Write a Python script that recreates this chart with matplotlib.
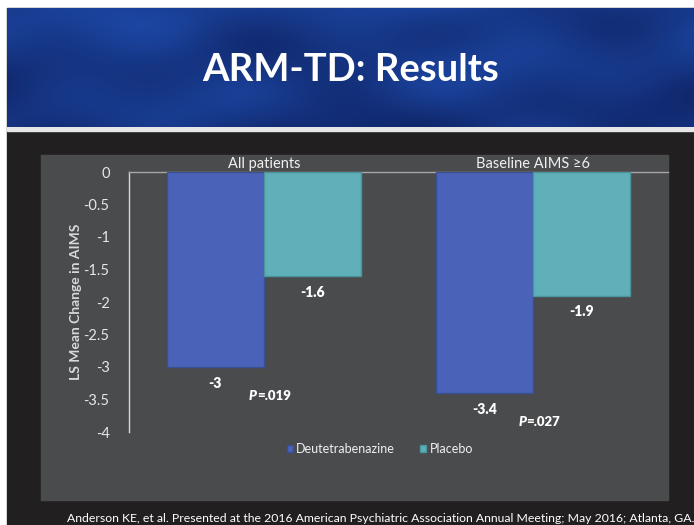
import numpy as np
import matplotlib
matplotlib.use("Agg")
import matplotlib.pyplot as plt
from matplotlib.patches import Rectangle

# ---- data ----
categories = ["All patients", "Baseline AIMS \u22656"]
series_names = ["Deutetrabenazine", "Placebo"]
deut_values = [-3.0, -3.4]
placebo_values = [-1.6, -1.9]
p_values = ["=.019", "=.027"]
yticks = [0, -0.5, -1, -1.5, -2, -2.5, -3, -3.5, -4]
ytick_labels = ["0", "-0.5", "-1", "-1.5", "-2", "-2.5", "-3", "-3.5", "-4"]
title = "ARM-TD: Results"
ylabel = "LS Mean Change in AIMS"
footer = ("Anderson KE, et al. Presented at the 2016 American Psychiatric "
          "Association Annual Meeting; May 2016; Atlanta, GA.")

W, H = 694, 525
plt.rcParams['font.family'] = ['Lato', 'DejaVu Sans']

fig = plt.figure(figsize=(W / 100, H / 100), dpi=100)
fig.patch.set_facecolor("white")

def fx(px):
    return px / W

def fy(py):
    return 1 - py / H

# dark slide background
bg = fig.add_axes([0, 0, 1, 1])
bg.set_xlim(0, W)
bg.set_ylim(H, 0)
bg.axis("off")
bg.add_patch(Rectangle((7, 8), W - 7, H - 8, color="#221f20", zorder=0))
# header separator line
bg.add_patch(Rectangle((7, 127), W - 7, 4, color="#e6e6e6", zorder=1))
# chart panel
bg.add_patch(Rectangle((41, 155), 627, 345, color="#4a4b4d", zorder=1))

# header image (decorative gradient)
hx = fig.add_axes([fx(7), fy(127), fx(W - 7), (127 - 8) / H])
hx.axis("off")
yy, xx = np.mgrid[0:1:120j, 0:1:690j]
tex = (0.62 + 0.2 * np.sin(xx * 9 + yy * 3) * np.cos(yy * 5 - xx * 4)
       + 0.12 * np.cos(xx * 23 + 1.3) * np.sin(yy * 7) - 0.2 * yy)
tex = np.clip(tex, 0, 1)
c0 = np.array([0.05, 0.12, 0.36])
c1 = np.array([0.12, 0.30, 0.68])
img = c0[None, None, :] + (c1 - c0)[None, None, :] * tex[..., None]
hx.imshow(img, aspect="auto", extent=[0, 1, 0, 1], interpolation="bilinear")
hx.set_xlim(0, 1)
hx.set_ylim(0, 1)
hx.text(0.50, 0.48, title, color="white", fontsize=27.5, fontweight="bold",
        ha="center", va="center", transform=hx.transAxes)

# main chart axes
ax = fig.add_axes([fx(129), fy(432), fx(668 - 129), (432 - 172) / H])
ax.set_facecolor("none")
x = np.arange(len(categories))
bw = 0.36
deut_colors = ("#4a63b8", "#3a4f96")
plac_colors = ("#5fb0b9", "#4a959e")
b1 = ax.bar(x - bw / 2, deut_values, bw, color=deut_colors[0],
            edgecolor=deut_colors[1], linewidth=1.0, label=series_names[0], zorder=3)
b2 = ax.bar(x + bw / 2, placebo_values, bw, color=plac_colors[0],
            edgecolor=plac_colors[1], linewidth=1.0, label=series_names[1], zorder=3)

ax.set_xlim(-0.5, 1.5)
ax.set_ylim(-4, 0)
ax.set_yticks(yticks)
ax.set_yticklabels(ytick_labels)
ax.tick_params(axis="y", length=0, pad=14, labelsize=10.5, labelcolor="#e6e6e6")
ax.xaxis.set_ticks_position("top")
ax.set_xticks(x)
ax.set_xticklabels(categories)
ax.tick_params(axis="x", length=0, pad=1, labelsize=10.5, labelcolor="#f0f0f0")
for s in ["right", "bottom"]:
    ax.spines[s].set_visible(False)
ax.spines["left"].set_color("#d9d9d9")
ax.spines["top"].set_color("#a6a6a6")
ax.spines["left"].set_linewidth(1.0)
ax.spines["top"].set_linewidth(1.0)
ax.set_ylabel(ylabel, color="#d9d9d9", fontsize=10, fontweight="bold", labelpad=1)

for i in range(len(categories)):
    ax.annotate(f"{deut_values[i]:g}", (x[i] - bw / 2, deut_values[i]),
                xytext=(0, -7), textcoords="offset points", ha="center", va="top",
                color="white", fontsize=10, fontweight="heavy")
    ax.annotate(f"{placebo_values[i]:g}", (x[i] + bw / 2, placebo_values[i]),
                xytext=(0, -7), textcoords="offset points", ha="center", va="top",
                color="white", fontsize=10, fontweight="heavy")
    ax.annotate("P", (x[i], deut_values[i]), xytext=(-5, -16.5),
                textcoords="offset points", ha="right", va="top", color="white",
                fontsize=9.5, fontweight="heavy", fontstyle="italic")
    ax.annotate(p_values[i], (x[i], deut_values[i]), xytext=(-5, -16.5),
                textcoords="offset points", ha="left", va="top", color="white",
                fontsize=9.5, fontweight="heavy")

leg = fig.legend(handles=[b1, b2], labels=series_names, loc="center",
                 bbox_to_anchor=(fx(380), fy(449)), ncol=2, frameon=False,
                 fontsize=9, handlelength=0.5, handleheight=0.5,
                 handletextpad=0.25, columnspacing=2.0, labelcolor="#f0f0f0")

fig.text(fx(694), fy(518), footer, ha="right", va="center", color="white",
         fontsize=8.8)

fig.savefig("out.png", dpi=100, facecolor=fig.get_facecolor())
